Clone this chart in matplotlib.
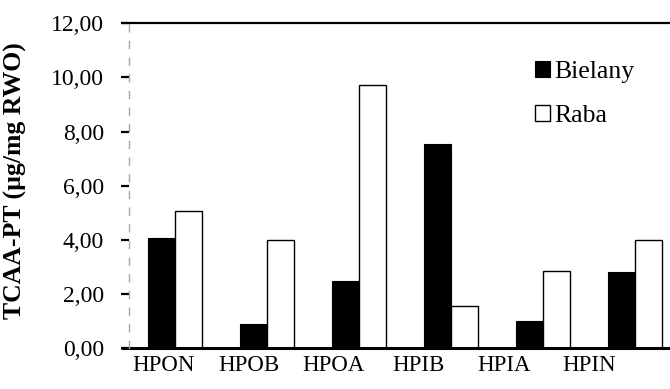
import matplotlib
matplotlib.use("Agg")
import matplotlib.pyplot as plt
import numpy as np

categories = ["HPON", "HPOB", "HPOA", "HPIB", "HPIA", "HPIN"]
bielany = [4.09, 0.89, 2.47, 7.53, 1.01, 2.80]
raba = [5.06, 4.01, 9.71, 1.56, 2.84, 4.01]
yticks = [0, 2, 4, 6, 8, 10, 12]
ytick_labels = ["0,00", "2,00", "4,00", "6,00", "8,00", "10,00", "12,00"]

plt.rcParams['font.family'] = ['Liberation Serif', 'DejaVu Serif']

W, H = 670, 389
fig = plt.figure(figsize=(W / 100, H / 100), dpi=100)
ax = fig.add_axes([129 / W, (H - 348.3) / H, 552 / W, 325 / H])

x = np.arange(len(categories))
bw = 0.29
ax.bar(x - bw / 2, bielany, bw, color="black", edgecolor="black", linewidth=0.8, label="Bielany")
ax.bar(x + bw / 2, raba, bw, color="white", edgecolor="black", linewidth=1.0, label="Raba")

ax.set_xlim(-0.5, len(categories) - 0.5)
ax.set_ylim(0, 12)

ax.set_yticks(yticks)
ax.set_yticklabels(ytick_labels, fontsize=17)
ax.tick_params(axis="y", direction="out", length=6, width=1.6, pad=12, colors="black")

# label positions slightly compressed relative to bar groups (as in the reference)
label_pos = -0.123 + 0.924 * x
ax.set_xticks(label_pos)
ax.set_xticklabels(categories, fontsize=16.5)
ax.tick_params(axis="x", length=0, pad=5)

for s in ["top", "right", "bottom"]:
    ax.spines[s].set_visible(False)
ax.spines["left"].set_color("#a8a8a8")
ax.spines["left"].set_linewidth(1.0)
ax.spines["left"].set_linestyle((0, (5, 7)))

ext = -8 / 552
ax.plot([ext, 1], [0, 0], transform=ax.transAxes, color="black", lw=2.2, clip_on=False, solid_capstyle="butt")
ax.plot([ext, 1], [1, 1], transform=ax.transAxes, color="black", lw=1.6, clip_on=False, solid_capstyle="butt")

ax.set_ylabel("TCAA-PT (µg/mg RWO)", fontsize=18.5, fontweight="bold")
ax.yaxis.set_label_coords((27 - 129) / 552, 0.515)

leg = ax.legend(loc="upper left", bbox_to_anchor=(535 / W, (H - 61) / H),
                bbox_transform=fig.transFigure, frameon=False, fontsize=18.5,
                handlelength=0.6, handleheight=0.6, handletextpad=0.15,
                labelspacing=0.85, borderpad=0, borderaxespad=0)

fig.savefig("out.png", dpi=100)
